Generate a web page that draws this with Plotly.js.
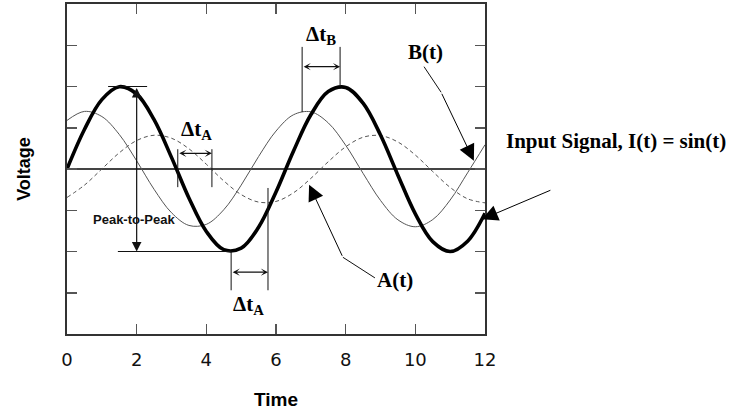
<!DOCTYPE html>
<html>
<head>
<meta charset="utf-8">
<script src="https://cdn.plot.ly/plotly-3.0.1.min.js"></script>
<style>
html,body{margin:0;padding:0;background:#fff;}
#chart{width:730px;height:412px;}
</style>
</head>
<body>
<div id="chart"></div>
<script>
// Time samples (x)
const time = [0,0.5,1,1.5,2,2.5,3,3.5,4,4.5,5,5.5,6,6.5,7,7.5,8,8.5,9,9.5,10,10.5,11,11.5,12];
// Input signal I(t) = sin(t)
const inputSignal = [0,0.479,0.841,0.997,0.909,0.598,0.141,-0.351,-0.757,-0.978,-0.959,-0.706,-0.279,0.215,0.657,0.938,0.989,0.798,0.412,-0.075,-0.544,-0.880,-1.000,-0.875,-0.537];
// B(t): leading, smaller amplitude (thin solid)
const signalB = [0.589,0.698,0.636,0.419,0.099,-0.246,-0.530,-0.684,-0.671,-0.494,-0.196,0.151,0.460,0.657,0.693,0.559,0.288,-0.053,-0.381,-0.616,-0.700,-0.613,-0.376,-0.046,0.294];
// A(t): lagging, smallest amplitude (dashed)
const signalA = [-0.345,-0.196,0,0.196,0.345,0.409,0.373,0.245,0.058,-0.144,-0.310,-0.401,-0.393,-0.289,-0.114,0.088,0.269,0.385,0.405,0.327,0.169,-0.031,-0.223,-0.361,-0.410];
const xTicks = [0,2,4,6,8,10,12];
const xTickLabels = ['0','2','4','6','8','10','12'];
const yTicks = [-2,-1.5,-1,-0.5,0,0.5,1,1.5,2];

const serif = 'Liberation Serif, Times New Roman, serif';
const sans = 'Liberation Sans, Arial, sans-serif';

const traces = [
  {x: time, y: signalA, mode: 'lines', line: {color: '#555', width: 1, dash: '4px,3px', shape: 'spline'}, name: 'A(t)', hoverinfo: 'skip'},
  {x: time, y: signalB, mode: 'lines', line: {color: '#555', width: 1, shape: 'spline'}, name: 'B(t)', hoverinfo: 'skip'},
  {x: time, y: inputSignal, mode: 'lines', line: {color: '#000', width: 3.6, shape: 'spline'}, name: 'I(t)', hoverinfo: 'skip'}
];

function seg(x0,y0,x1,y1){
  return {type:'line', xref:'x', yref:'y', x0:x0, y0:y0, x1:x1, y1:y1, line:{color:'#111', width:1}};
}
function dbl(x0,x1,y){
  return {x:x1, y:y, ax:x0, ay:y, xref:'x', yref:'y', axref:'x', ayref:'y', text:'', showarrow:true,
    arrowhead:3, arrowsize:1, arrowwidth:1.2, arrowside:'end+start', startarrowhead:3, startarrowsize:1, arrowcolor:'#111'};
}
function lbl(text,x,y,size,xref,yref){
  return {x:x, y:y, xref:xref||'x', yref:yref||'y', text:text, showarrow:false,
    font:{family:serif, size:size, color:'#000'}, xanchor:'center', yanchor:'middle'};
}
function pointer(x,y,ax,ay){
  return {x:x, y:y, ax:ax, ay:ay, xref:'x', yref:'y', axref:'x', ayref:'y', text:'', showarrow:true,
    arrowhead:2, arrowsize:3.2, arrowwidth:1, arrowcolor:'#000'};
}

const shapes = [
  // peak-to-peak guides
  seg(1.18,1.0,2.30,1.0),
  seg(1.46,-1.0,4.712,-1.0),
  // delta tA (upper)
  seg(3.18,0.24,3.18,-0.22),
  seg(4.16,0.24,4.16,-0.22),
  // delta tA (lower)
  seg(4.712,-1.0,4.712,-1.47),
  seg(5.77,-0.23,5.77,-1.47),
  // delta tB
  seg(6.75,1.48,6.75,0.69),
  seg(7.84,1.48,7.84,1.0),
  // bent leader lines
  seg(10.25,1.24,10.74,0.93),
  seg(8.84,-1.32,7.92,-1.07)
];

const annotations = [
  // peak-to-peak double arrow
  {x:2, y:-1.0, ax:2, ay:1.0, xref:'x', yref:'y', axref:'x', ayref:'y', text:'', showarrow:true,
    arrowhead:2, arrowsize:1.6, arrowwidth:1.2, arrowside:'end+start', startarrowhead:2, startarrowsize:1.6, arrowcolor:'#111'},
  {x:1.91, y:-0.61, xref:'x', yref:'y', text:'<b>Peak-to-Peak</b>', showarrow:false,
    font:{family:sans, size:13, color:'#111'}, xanchor:'center', yanchor:'middle'},
  dbl(3.18,4.16,0.19),
  dbl(4.712,5.77,-1.25),
  dbl(6.75,7.84,1.24),
  lbl('<b>Δt<sub>A</sub></b>', 3.73, 0.47, 21),
  lbl('<b>Δt<sub>A</sub></b>', 5.22, -1.65, 21),
  lbl('<b>Δt<sub>B</sub></b>', 7.29, 1.62, 21),
  lbl('<b>B(t)</b>', 10.28, 1.42, 21),
  pointer(11.68, 0.10, 10.74, 0.93),
  lbl('<b>A(t)</b>', 9.42, -1.35, 21),
  pointer(6.95, -0.19, 7.92, -1.07),
  lbl('<b>Input Signal, I(t) = sin(t)</b>', 1.3134, 0.585, 21, 'paper', 'paper'),
  pointer(11.91, -0.61, 13.92, -0.25)
];

const layout = {
  width: 730, height: 412,
  margin: {l: 67, r: 245, t: 4, b: 78},
  paper_bgcolor: '#fff', plot_bgcolor: '#fff',
  showlegend: false,
  xaxis: {
    range: [0, 12], tickvals: xTicks, ticktext: xTickLabels,
    ticks: 'inside', ticklen: 10, tickwidth: 1.5, tickcolor: '#555',
    showline: true, linecolor: '#333', linewidth: 2, mirror: 'ticks',
    showgrid: false, zeroline: false, ticklabelstandoff: 8,
    tickfont: {family: 'DejaVu Sans, sans-serif', size: 18, color: '#111'},
    title: {text: '<b>Time</b>', font: {family: sans, size: 19, color: '#000'}, standoff: 24}
  },
  yaxis: {
    range: [-2, 2], tickvals: yTicks, showticklabels: false,
    ticks: 'inside', ticklen: 10, tickwidth: 1.5, tickcolor: '#555',
    showline: true, linecolor: '#333', linewidth: 2, mirror: 'ticks',
    showgrid: false, zeroline: true, zerolinecolor: '#444', zerolinewidth: 1.5,
    title: {text: '<b>Voltage</b>', font: {family: sans, size: 18, color: '#000'}, standoff: 30}
  },
  shapes: shapes,
  annotations: annotations
};

Plotly.newPlot('chart', traces, layout, {displayModeBar: false, staticPlot: true});
</script>
</body>
</html>
